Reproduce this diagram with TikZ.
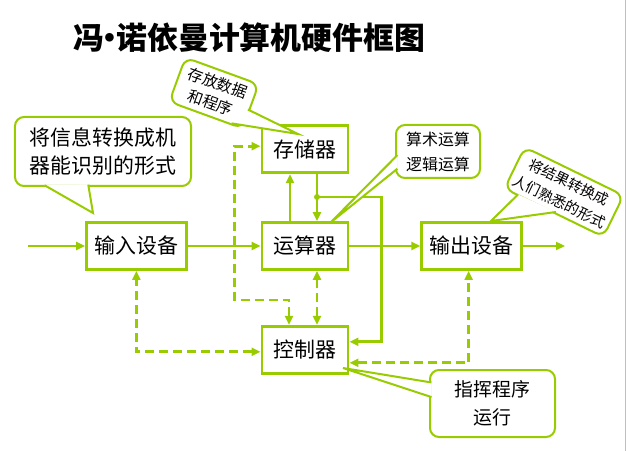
\documentclass[tikz,border=0pt]{standalone}
\usepackage{fontspec}
\newfontfamily\cjk{Noto Sans CJK SC}
\usetikzlibrary{arrows.meta,positioning,calc}
\definecolor{lgreen}{RGB}{153,204,0}
\begin{document}
\begin{tikzpicture}[
  x=1bp,y=-1bp,
  >={Triangle[length=9bp,width=8bp]},
  block/.style={draw=lgreen,line width=2.8bp,minimum width=86bp,minimum height=47bp,inner xsep=8bp,font=\cjk\fontsize{21}{24}\selectfont},
  arrow/.style={->,draw=lgreen,line width=2.8bp},
  dasharrow/.style={<->,draw=lgreen,line width=2.8bp,dash pattern=on 9bp off 5bp},
  bubble/.style={draw=lgreen,line width=2bp,fill=white,rounded corners=9bp,outer sep=0pt,inner sep=2bp,align=center},
  tail/.style={draw=lgreen,line width=2bp,fill=white}
]
  \useasboundingbox (0,0) rectangle (627,451);
  \draw[black!25,line width=0.8bp] (625.5,0) -- (625.5,451);
  \node[anchor=west,inner sep=0pt,font=\cjk\bfseries\fontsize{31}{31}\selectfont] (title) at (73,37.5) {冯\kern-0.3em·\kern-0.3em诺依曼计算机硬件框图};

  \node[block] (alu) at (305,246) {运算器};
  \node[block,left=73bp of alu] (input) {输入设备};
  \node[block,right=71bp of alu] (output) {输出设备};
  \node[block,above=47bp of alu] (mem) {存储器};
  \node[block,below=54bp of alu] (ctrl) {控制器};

  \coordinate (src) at (28,246);
  \coordinate (sink) at (565,246);
  \coordinate (jn) at (317,197);
  \draw[arrow] (src) -- (input);
  \draw[arrow] (input) -- (alu);
  \draw[arrow] (alu) -- (output);
  \draw[arrow] (output) -- (sink);
  \draw[arrow] ([xshift=-15bp]alu.north) -- ([xshift=-15bp]mem.south);
  \draw[arrow] ([xshift=12bp]mem.south) -- ([xshift=12bp]alu.north);
  \fill[lgreen] (jn) circle (3bp);
  \draw[arrow] (jn) -| ([xshift=32bp,yshift=8bp]ctrl.east) -- ([yshift=8bp]ctrl.east);

  \draw[dasharrow] ([yshift=-2bp]ctrl.west) -| (input.south);
  \draw[dasharrow] ([xshift=12bp]ctrl.north) -- ([xshift=12bp]alu.south);
  \draw[dasharrow] ([xshift=-16bp]ctrl.north) -- ++(0,-25) -| ([xshift=-26bp,yshift=3bp]mem.west) -- ([yshift=3bp]mem.west);
  \draw[dasharrow] ([yshift=-13bp]ctrl.east) -| ([xshift=-3bp]output.south);

  % callouts
  \node[bubble,minimum width=176bp,minimum height=69bp,font=\cjk\fontsize{21}{28}\selectfont] (infonote) at (103,151.5) {将信息转换成机\\器能识别的形式};
  \coordinate (infotip) at (93,213);
  \draw[tail] ($(infonote.210)!1.5bp!(infonote.center)$) -- (infotip) -- ($(infonote.246)!1.5bp!(infonote.center)$);

  \node[bubble,rotate=-20,minimum width=78bp,minimum height=47bp,font=\cjk\fontsize{15.5}{21}\selectfont] (memnote) at (214,93) {存放数据\\和程序};
  \coordinate (memtip) at (298,134);
  \draw[tail] ($(memnote.-6)!1.5bp!(memnote.center)$) -- (memtip) -- ($(memnote.-40)!1.5bp!(memnote.center)$);

  \node[bubble,minimum width=84bp,minimum height=53bp,font=\cjk\fontsize{16}{25}\selectfont] (alunote) at (438,151.5) {算术运算\\逻辑运算};
  \coordinate (alutip) at (330,223);
  \draw[tail] ($(alunote.185)!1.5bp!(alunote.center)$) -- (alutip) -- ($(alunote.203)!1.5bp!(alunote.center)$);

  \node[bubble,rotate=-26,minimum width=110bp,minimum height=46bp,font=\cjk\fontsize{14.5}{22}\selectfont] (outnote) at (564,192) {将结果转换成\\人们熟悉的形式};
  \coordinate (outtip) at (491,221);
  \draw[tail] ($(outnote.209)!1.5bp!(outnote.center)$) -- (outtip) -- ($(outnote.274)!1.5bp!(outnote.center)$);

  \node[bubble,minimum width=125bp,minimum height=67bp,font=\cjk\fontsize{19}{28}\selectfont] (ctrlnote) at (492.5,403.5) {指挥程序\\运行};
  \coordinate (ctrltip) at (343,368);
  \draw[tail] ($(ctrlnote.161)!1.5bp!(ctrlnote.center)$) -- (ctrltip) -- ($(ctrlnote.174)!1.5bp!(ctrlnote.center)$);
\end{tikzpicture}
\end{document}
